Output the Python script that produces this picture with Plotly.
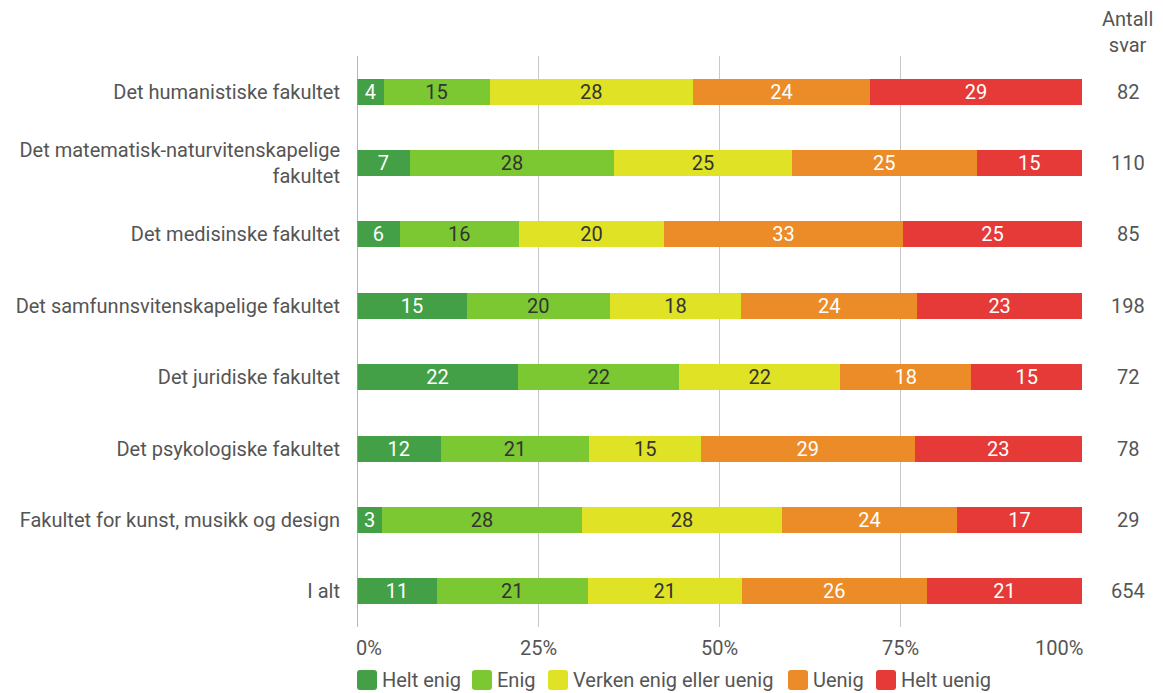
import plotly.graph_objects as go

# Antall svar per fakultet og svaralternativ (lest av figuren)
faculties = [
    "Det humanistiske fakultet",
    "Det matematisk-naturvitenskapelige<br>fakultet",
    "Det medisinske fakultet",
    "Det samfunnsvitenskapelige fakultet",
    "Det juridiske fakultet",
    "Det psykologiske fakultet",
    "Fakultet for kunst, musikk og design",
    "I alt",
]
helt_enig = [3, 8, 5, 30, 16, 9, 1, 72]
enig = [12, 31, 14, 39, 16, 16, 8, 136]
verken = [23, 27, 17, 36, 16, 12, 8, 139]
uenig = [20, 28, 28, 48, 13, 23, 7, 167]
helt_uenig = [24, 16, 21, 45, 11, 18, 5, 140]
antall = [82, 110, 85, 198, 72, 78, 29, 654]

series = [
    ("Helt enig", helt_enig, "#43a047", "white"),
    ("Enig", enig, "#7cc832", "#333333"),
    ("Verken enig eller uenig", verken, "#dfe225", "#333333"),
    ("Uenig", uenig, "#eb8c29", "white"),
    ("Helt uenig", helt_uenig, "#e53a38", "white"),
]

tick_vals = [0, 25, 50, 75, 100]
tick_text = ["0%", "25%", "50%", "75%", "100%"]

FONT = "Roboto"
GREY = "#555555"
FS = 20

# siden har 8 px marg i nettleseren, så alt flyttes 8 px opp/venstre
OFF = 8
L, R, T, B = 357 - OFF, 1082 - OFF, 56 - OFF, 627 - OFF
W, H = 1163 - OFF, 693 - OFF

fig = go.Figure()
for name, counts, color, txtcolor in series:
    pct = [c / n * 100 for c, n in zip(counts, antall)]
    fig.add_trace(go.Bar(
        y=faculties, x=pct, name=name, orientation="h",
        marker=dict(color=color, line=dict(width=0)),
        text=[str(int(p + 0.5)) for p in pct],
        textposition="inside", insidetextanchor="middle", textangle=0,
        textfont=dict(family=FONT, size=FS, color=txtcolor),
        constraintext="none", showlegend=False,
    ))

# antall svar-kolonne
for fac, n in zip(faculties, antall):
    fig.add_annotation(x=1, xref="paper", y=fac, yref="y", text=str(n),
                       xshift=46, showarrow=False, xanchor="center",
                       font=dict(family=FONT, size=FS, color=GREY))
fig.add_annotation(x=1, xref="paper", y=1, yref="paper", text="Antall<br>svar",
                   xshift=45, yshift=-3, showarrow=False, xanchor="center", yanchor="bottom",
                   font=dict(family=FONT, size=FS, color=GREY))

# x-aksens etiketter
for v, t in zip(tick_vals, tick_text):
    anchor = "left" if v == 0 else ("right" if v == 100 else "center")
    fig.add_annotation(x=v, xref="x", y=0, yref="paper", text=t, yshift=-21,
                       showarrow=False, xanchor=anchor, yanchor="middle",
                       xshift=-3 if v == 0 else (3 if v == 100 else 0),
                       font=dict(family=FONT, size=FS, color=GREY))

# forklaring: avrundede firkanter + tekst
legend_x = [357, 472, 548, 788, 876]
ly0, ly1 = 670 - OFF, 690 - OFF
for (name, _, color, _), px in zip(series, legend_x):
    px -= OFF
    x0, x1 = (px - L) / (R - L), (px + 20 - L) / (R - L)
    y0, y1 = (B - ly1) / (B - T), (B - ly0) / (B - T)
    rx, ry = 3 / (R - L), 3 / (B - T)
    path = (f"M {x0+rx},{y0} L {x1-rx},{y0} Q {x1},{y0} {x1},{y0+ry} "
            f"L {x1},{y1-ry} Q {x1},{y1} {x1-rx},{y1} L {x0+rx},{y1} "
            f"Q {x0},{y1} {x0},{y1-ry} L {x0},{y0+ry} Q {x0},{y0} {x0+rx},{y0} Z")
    fig.add_shape(type="path", xref="paper", yref="paper", path=path,
                  fillcolor=color, line=dict(width=0))
    fig.add_annotation(x=(px + 23 - L) / (R - L), xref="paper",
                       y=(B - (ly0 + ly1) / 2) / (B - T), yref="paper",
                       text=name, showarrow=False, xanchor="left", yanchor="middle",
                       font=dict(family=FONT, size=FS, color=GREY))

fig.update_layout(
    barmode="stack",
    bargap=0.636,
    width=W, height=H,
    margin=dict(l=L, r=W - R, t=T, b=H - B, autoexpand=False),
    plot_bgcolor="white", paper_bgcolor="white",
    font=dict(family=FONT, size=FS, color=GREY),
    showlegend=False,
    xaxis=dict(range=[0, 100], tickvals=tick_vals, showticklabels=False,
               showgrid=True, gridcolor="#c8c8c8", gridwidth=1, zeroline=False,
               showline=False, fixedrange=True, automargin=False),
    yaxis=dict(autorange="reversed", ticks="", ticklabelstandoff=16,
               tickfont=dict(family=FONT, size=FS, color=GREY), showgrid=False,
               zeroline=False, automargin=False),
)
fig.add_shape(type="line", xref="x", yref="paper", x0=0, x1=0, y0=0, y1=1,
              line=dict(color="#9e9e9e", width=1.5))

fig.write_html("out.html")
